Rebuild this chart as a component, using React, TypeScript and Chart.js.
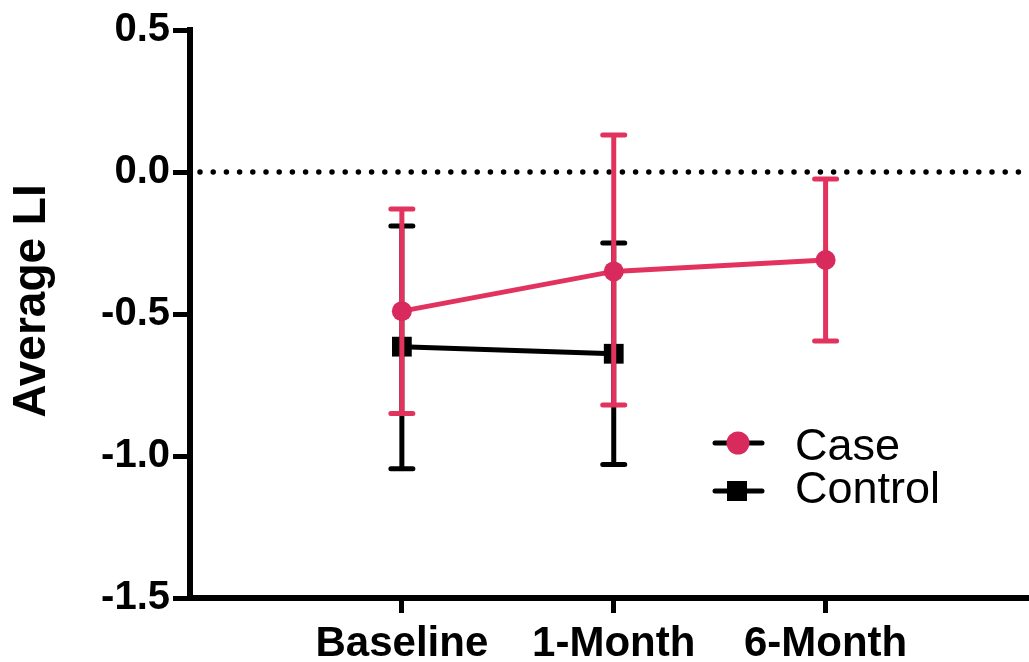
import React, { useEffect, useRef } from "react";
import { Chart, registerables } from "chart.js";

Chart.register(...registerables);

const categories = ["Baseline", "1-Month", "6-Month"];
const caseMean = [-0.49, -0.35, -0.31];
const caseUpper = [-0.13, 0.13, -0.025];
const caseLower = [-0.85, -0.82, -0.595];
const controlMean = [-0.615, -0.64];
const controlUpper = [-0.19, -0.25];
const controlLower = [-1.045, -1.03];
const yTicks = [-1.5, -1.0, -0.5, 0.0, 0.5];
const yTitle = "Average LI";

const PINK = "#e2335e";
const PINK_DARK = "#d82a5c";
const BLACK = "#000000";
const FONT = "'Liberation Sans', Arial, Helvetica, sans-serif";

const errorBars: Record<number, { upper: number[]; lower: number[]; color: string }> = {
  0: { upper: caseUpper, lower: caseLower, color: PINK },
  1: { upper: controlUpper, lower: controlLower, color: BLACK },
};

const errorBarPlugin = {
  id: "errorBars",
  beforeDatasetDraw(chart: any, args: any) {
    const eb = errorBars[args.index];
    if (!eb) return;
    const y = chart.scales.y;
    const ctx = chart.ctx;
    ctx.save();
    ctx.strokeStyle = eb.color;
    ctx.lineWidth = 5;
    args.meta.data.forEach((pt: any, i: number) => {
      const x = pt.x;
      const yu = y.getPixelForValue(eb.upper[i]);
      const yl = y.getPixelForValue(eb.lower[i]);
      ctx.lineCap = "butt";
      ctx.beginPath();
      ctx.moveTo(x, yu);
      ctx.lineTo(x, yl);
      ctx.stroke();
      ctx.lineCap = "round";
      ctx.beginPath();
      ctx.moveTo(x - 11, yu);
      ctx.lineTo(x + 11, yu);
      ctx.moveTo(x - 11, yl);
      ctx.lineTo(x + 11, yl);
      ctx.stroke();
    });
    ctx.restore();
  },
};

const zeroLinePlugin = {
  id: "zeroLine",
  beforeDatasetsDraw(chart: any) {
    const { ctx, chartArea } = chart;
    const y0 = chart.scales.y.getPixelForValue(0);
    ctx.save();
    ctx.strokeStyle = BLACK;
    ctx.lineWidth = 5.5;
    ctx.lineCap = "round";
    ctx.setLineDash([0, 13.2]);
    ctx.beginPath();
    ctx.moveTo(chartArea.left + 10, y0);
    ctx.lineTo(chartArea.right, y0);
    ctx.stroke();
    ctx.restore();
  },
};

const yTitlePlugin = {
  id: "yTitle",
  afterDraw(chart: any) {
    const ctx = chart.ctx;
    const y = chart.scales.y;
    const cy = y.getPixelForValue(-0.5) - 13;
    ctx.save();
    ctx.translate(32, cy);
    ctx.rotate(-Math.PI / 2);
    ctx.fillStyle = BLACK;
    ctx.font = `bold 46px ${FONT}`;
    ctx.textAlign = "center";
    ctx.textBaseline = "middle";
    ctx.fillText(yTitle, 0, 0);
    ctx.restore();
  },
};

const legendPlugin = {
  id: "customLegend",
  afterDraw(chart: any) {
    const ctx = chart.ctx;
    const items = [
      { label: chart.data.datasets[0].label, color: PINK_DARK, style: "circle", y: 443, base: 460 },
      { label: chart.data.datasets[1].label, color: BLACK, style: "rect", y: 491, base: 503 },
    ];
    ctx.save();
    items.forEach((it) => {
      ctx.strokeStyle = BLACK;
      ctx.lineWidth = 5;
      ctx.lineCap = "round";
      ctx.beginPath();
      ctx.moveTo(715, it.y);
      ctx.lineTo(762, it.y);
      ctx.stroke();
      ctx.fillStyle = it.color;
      if (it.style === "circle") {
        ctx.beginPath();
        ctx.arc(738, it.y, 11.5, 0, Math.PI * 2);
        ctx.fill();
      } else {
        ctx.fillRect(727, it.y - 10, 20, 20);
      }
      ctx.fillStyle = BLACK;
      ctx.font = `45px ${FONT}`;
      ctx.textBaseline = "alphabetic";
      ctx.textAlign = "left";
      ctx.fillText(it.label, 795, it.base);
    });
    ctx.restore();
  },
};

export default function App() {
  const ref = useRef<HTMLCanvasElement | null>(null);

  useEffect(() => {
    if (!ref.current) return;
    const chart = new Chart(ref.current, {
      type: "line",
      data: {
        datasets: [
          {
            label: "Case",
            data: caseMean.map((v, i) => ({ x: i + 1, y: v })),
            borderColor: PINK,
            borderWidth: 5,
            pointBackgroundColor: PINK_DARK,
            pointBorderWidth: 0,
            pointRadius: 10,
            pointStyle: "circle",
            fill: false,
            tension: 0,
          },
          {
            label: "Control",
            data: controlMean.map((v, i) => ({ x: i + 1, y: v })),
            borderColor: BLACK,
            borderWidth: 5,
            pointBackgroundColor: BLACK,
            pointBorderWidth: 0,
            pointRadius: 14,
            pointStyle: "rect",
            fill: false,
            tension: 0,
          },
        ],
      },
      options: {
        animation: false,
        responsive: true,
        maintainAspectRatio: false,
        layout: { autoPadding: false, padding: { top: 30, left: 0, right: 0, bottom: 0 } },
        plugins: {
          legend: { display: false },
          tooltip: { enabled: false },
        },
        scales: {
          x: {
            type: "linear",
            min: 0,
            max: 3.96,
            afterBuildTicks: (s: any) => {
              s.ticks = categories.map((_, i) => ({ value: i + 1 }));
            },
            afterFit: (s: any) => {
              s.height = 64;
              s.paddingLeft = 0;
              s.paddingRight = 0;
            },
            ticks: {
              callback: (v: any) => categories[Number(v) - 1] ?? "",
              font: { family: FONT, size: 42, weight: "bold" },
              color: BLACK,
              padding: 6,
              maxRotation: 0,
              autoSkip: false,
            },
            grid: {
              drawOnChartArea: false,
              drawTicks: true,
              tickLength: 15,
              tickWidth: 5,
              tickColor: BLACK,
            },
            border: { display: true, color: BLACK, width: 6 },
          },
          y: {
            type: "linear",
            min: -1.5,
            max: 0.5,
            afterBuildTicks: (s: any) => {
              s.ticks = yTicks.map((v) => ({ value: v }));
            },
            afterFit: (s: any) => {
              s.width = 190;
            },
            ticks: {
              callback: (v: any) => Number(v).toFixed(1),
              font: { family: FONT, size: 40, weight: "bold" },
              color: BLACK,
              padding: 3,
            },
            grid: {
              drawOnChartArea: false,
              drawTicks: true,
              tickLength: 17,
              tickWidth: 5,
              tickColor: BLACK,
            },
            border: { display: true, color: BLACK, width: 6 },
          },
        },
      },
      plugins: [zeroLinePlugin, errorBarPlugin, legendPlugin, yTitlePlugin],
    } as any);
    return () => chart.destroy();
  }, []);

  return (
    <div style={{ position: "absolute", left: 0, top: 0, width: 1029, height: 662, background: "#fff" }}>
      <canvas ref={ref} />
    </div>
  );
}
